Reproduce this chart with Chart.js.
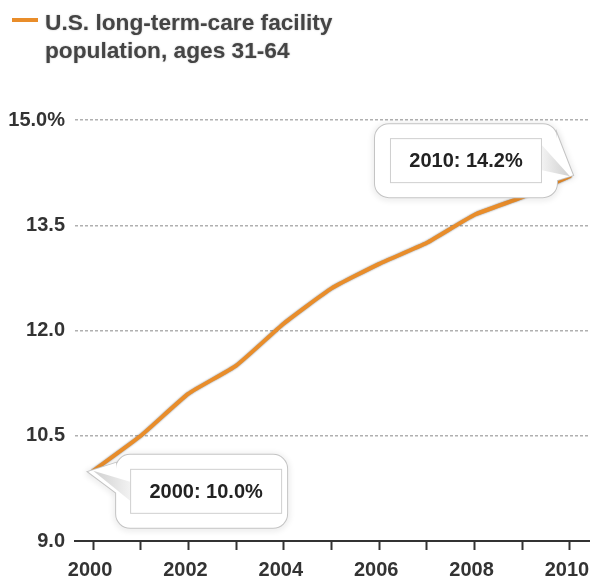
<!DOCTYPE html>
<html>
<head>
<meta charset="utf-8">
<script src="https://cdn.jsdelivr.net/npm/chart.js@4.4.1/dist/chart.umd.min.js"></script>
<style>
  html, body { margin: 0; padding: 0; background: #fff; }
  #wrap { position: relative; width: 590px; height: 581px; }
</style>
</head>
<body>
<div id="wrap"><canvas id="lineChart" width="590" height="581"></canvas></div>
<script>
// DATA
const years = [2000, 2001, 2002, 2003, 2004, 2005, 2006, 2007, 2008, 2009, 2010];
const values = [10.0, 10.5, 11.1, 11.5, 12.1, 12.6, 12.95, 13.25, 13.65, 13.9, 14.2];
const yTicks = [9.0, 10.5, 12.0, 13.5, 15.0];
const xLabelYears = [2000, 2002, 2004, 2006, 2008, 2010];
const seriesLabel = ['U.S. long-term-care facility', 'population, ages 31-64'];
const calloutYears = [2000, 2010];

const ORANGE = '#e98d2a';
const FONT = '"Liberation Sans", Arial, Helvetica, sans-serif';

function roundRectPath(ctx, x, y, w, h, r) {
  ctx.moveTo(x + r, y);
  ctx.arcTo(x + w, y, x + w, y + h, r);
  ctx.arcTo(x + w, y + h, x, y + h, r);
  ctx.arcTo(x, y + h, x, y, r);
  ctx.arcTo(x, y, x + w, y, r);
  ctx.closePath();
}

// soft grey edge round the line
const lineShadow = {
  id: 'lineShadow',
  beforeDatasetsDraw(chart) {
    const ctx = chart.ctx;
    ctx.save();
    ctx.shadowColor = 'rgba(0,0,0,0.5)';
    ctx.shadowBlur = 2;
  },
  afterDatasetsDraw(chart) { chart.ctx.restore(); }
};

// two-line legend at top left
const legendText = {
  id: 'legendText',
  afterDraw(chart) {
    const ctx = chart.ctx;
    ctx.save();
    ctx.strokeStyle = ORANGE;
    ctx.lineWidth = 4;
    ctx.beginPath();
    ctx.moveTo(12, 20);
    ctx.lineTo(38, 20);
    ctx.stroke();
    ctx.font = 'bold 22.7px ' + FONT;
    ctx.fillStyle = '#444';
    ctx.textAlign = 'left';
    ctx.textBaseline = 'alphabetic';
    ctx.shadowColor = 'rgba(0,0,0,0.25)';
    ctx.shadowBlur = 2;
    seriesLabel.forEach((t, i) => ctx.fillText(t, 45, 30 + i * 28));
    ctx.restore();
  }
};

// speech-bubble labels on first and last point
const callouts = {
  id: 'callouts',
  afterDatasetsDraw(chart) {
    const { ctx, scales: { x, y } } = chart;
    calloutYears.forEach((yr, i) => {
      const v = values[years.indexOf(yr)];
      const px = x.getPixelForValue(yr);
      const py = y.getPixelForValue(v);
      const right = i === 0;            // first bubble sits right/below, last one left/above
      const bw = 152, bh = 45;
      const bx = right ? px + 37 : px - 180;
      const by = right ? py - 2 : py - 38;
      const ox = right ? bx - 14 : bx - 15;
      const ow = right ? bw + 19 : bw + 30;
      const oy = by - 14, oh = bh + 28;
      const edgeX = right ? ox : ox + ow;
      const tailA = right ? [edgeX, py - 8] : [edgeX, py - 42];
      const tailB = right ? [edgeX, py + 22] : [edgeX, py + 4];
      const apex = right ? [px - 5, py + 1] : [px + 3, py - 1];

      ctx.save();
      // outer bubble: outline + shadow, then white fill
      ctx.shadowColor = 'rgba(0,0,0,0.22)';
      ctx.shadowBlur = 6;
      ctx.shadowOffsetY = 1;
      ctx.strokeStyle = '#c4c4c4';
      ctx.lineWidth = 2;
      ctx.beginPath();
      roundRectPath(ctx, ox, oy, ow, oh, 14);
      ctx.moveTo(tailA[0], tailA[1]);
      ctx.lineTo(apex[0], apex[1]);
      ctx.lineTo(tailB[0], tailB[1]);
      ctx.closePath();
      ctx.stroke();
      ctx.shadowColor = 'transparent';
      ctx.fillStyle = '#fff';
      ctx.fill();

      // inner tail
      const ix = right ? bx : bx + bw;
      const g = ctx.createLinearGradient(px, py, ix, py);
      g.addColorStop(0, '#cfcfcf');
      g.addColorStop(1, '#f2f2f2');
      ctx.fillStyle = g;
      ctx.beginPath();
      ctx.moveTo(px, py);
      ctx.lineTo(ix, right ? py + 11 : py - 31);
      ctx.lineTo(ix, right ? py + 30 : py - 6);
      ctx.closePath();
      ctx.fill();

      // inner box
      ctx.fillStyle = '#fff';
      ctx.strokeStyle = '#cfcfcf';
      ctx.lineWidth = 1;
      ctx.fillRect(bx, by, bw, bh);
      ctx.strokeRect(bx + 0.5, by + 0.5, bw - 1, bh - 1);

      ctx.font = 'bold 20px ' + FONT;
      ctx.fillStyle = '#222';
      ctx.textAlign = 'center';
      ctx.textBaseline = 'middle';
      ctx.fillText(yr + ': ' + v.toFixed(1) + '%', bx + bw / 2, by + bh / 2 + 1);
      ctx.restore();
    });
  }
};

new Chart(document.getElementById('lineChart'), {
  type: 'line',
  data: {
    datasets: [{
      label: seriesLabel.join(' '),
      data: years.map((yr, i) => ({ x: yr, y: values[i] })),
      borderColor: ORANGE,
      borderWidth: 4,
      pointRadius: 0,
      tension: 0.15,
      borderJoinStyle: 'round',
      borderCapStyle: 'round',
      fill: false
    }]
  },
  options: {
    responsive: false,
    animation: false,
    layout: { padding: { top: 120, right: 0, left: 0, bottom: 0 } },
    plugins: { legend: { display: false }, tooltip: { enabled: false } },
    scales: {
      x: {
        type: 'linear',
        min: 1999.62,
        max: 2010.42,
        afterBuildTicks: s => { s.ticks = years.map(v => ({ value: v })); },
        afterFit: s => { s.height = 40; s.paddingLeft = 0; s.paddingRight = 0; },
        ticks: {
          autoSkip: false,
          maxRotation: 0,
          padding: 8,
          labelOffset: -3,
          color: '#333',
          font: { family: FONT, size: 20, weight: 'bold' },
          callback: v => xLabelYears.includes(v) ? String(v) : ''
        },
        grid: { drawOnChartArea: false, drawTicks: true, tickLength: 9, tickWidth: 2, tickColor: '#333' },
        border: { display: true, color: '#333', width: 2 }
      },
      y: {
        min: 9,
        max: 15,
        afterBuildTicks: s => { s.ticks = yTicks.map(v => ({ value: v })); },
        afterFit: s => { s.width = 75; },
        ticks: {
          padding: 10,
          color: '#333',
          font: { family: FONT, size: 20, weight: 'bold' },
          callback: v => v === 15 ? v.toFixed(1) + '%' : v.toFixed(1)
        },
        grid: {
          drawTicks: false,
          lineWidth: 1.5,
          color: c => (c.tick && c.tick.value === 9) ? 'rgba(0,0,0,0)' : '#b0b0b0'
        },
        border: { display: false, dash: [3, 2] }
      }
    }
  },
  plugins: [lineShadow, legendText, callouts]
});
</script>
</body>
</html>
